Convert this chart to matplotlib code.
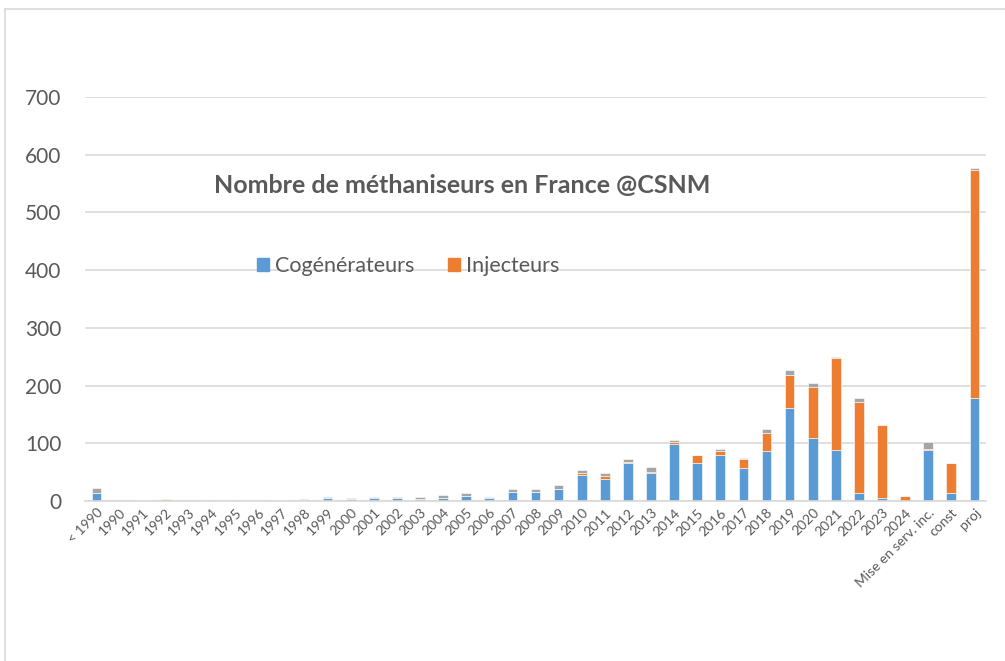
import matplotlib
matplotlib.use("Agg")
import matplotlib.pyplot as plt
from matplotlib.lines import Line2D
from matplotlib.patches import Patch
import numpy as np

plt.rcParams['font.family'] = ['Lato', 'DejaVu Sans']

categories = ["< 1990"] + [str(y) for y in range(1990, 2025)] + ["Mise en serv. inc.", "const", "proj"]

# cogénérateurs (blue)
cogen = [14, 0.5, 1, 0.5, 0, 0.5, 0.5, 0.5, 1.5, 1, 5, 4, 5, 5, 4,
         5, 9, 6, 16, 16, 21.5, 45, 38, 65, 49, 98, 65, 79, 57, 86,
         162, 109, 88, 13, 6, 0.5, 88, 13, 178]
# injecteurs (orange)
inject = [0, 0, 0, 2.5, 0, 0, 0, 0, 0, 1, 0, 0, 0, 0, 0,
          1, 0, 0, 0, 0, 0, 3, 4.5, 2, 1.5, 5, 14, 8, 16, 31,
          57, 88, 160, 159, 125, 7.5, 2, 52, 395]
# autres (grey)
autres = [8, 0, 0, 0, 0, 2, 2, 2, 0, 1.5, 1.5, 1.5, 1.5, 1.5, 2.5,
          5, 5, 1, 5.5, 5, 7, 5.5, 5.5, 6, 8.5, 3, 1, 2.5, 2, 8,
          8, 8, 2, 6, 1, 1, 13, 1, 4]

BLUE, ORANGE, GREY = "#5B9BD5", "#ED7D31", "#A5A5A5"
TXT = "#595959"

fig = plt.figure(figsize=(10.05, 6.61), dpi=100)
ax = fig.add_axes([85 / 1005, 1 - 501 / 661, 901 / 1005, 404 / 661])

x = np.arange(len(categories))
cogen, inject, autres = map(np.array, (cogen, inject, autres))
w = 0.42
ax.bar(x, cogen, w, color=BLUE, edgecolor="white", linewidth=0.4, zorder=2)
ax.bar(x, inject, w, bottom=cogen, color=ORANGE, edgecolor="white", linewidth=0.4, zorder=2)
ax.bar(x, autres, w, bottom=cogen + inject, color=GREY, edgecolor="white", linewidth=0.4, zorder=2)

ax.set_xlim(-0.5, len(categories) - 0.5)
ax.set_ylim(0, 700)
ax.set_yticks(range(0, 701, 100))
ax.yaxis.grid(True, color="#D9D9D9", lw=1.2, zorder=0)
ax.set_axisbelow(True)
for s in ["top", "right", "left"]:
    ax.spines[s].set_visible(False)
ax.spines["bottom"].set_color("#D9D9D9")
ax.spines["bottom"].set_linewidth(1.2)
ax.tick_params(length=0)
ax.tick_params(axis="y", labelsize=15, labelcolor=TXT, pad=17)
ax.set_xticks(x)
ax.set_xticklabels(categories, rotation=45, ha="right", va="top",
                   rotation_mode="anchor", fontsize=10, color=TXT)
ax.tick_params(axis="x", pad=4)

fig.text(462 / 1005, 1 - 185 / 661, "Nombre de méthaniseurs en France @CSNM",
         ha="center", va="center", fontsize=18, fontweight="bold", color=TXT)

handles = [Patch(color=BLUE, label="Cogénérateurs"), Patch(color=ORANGE, label="Injecteurs")]
fig.legend(handles=handles, loc="center left", bbox_to_anchor=(238 / 1005, 1 - 266 / 661),
           ncol=2, frameon=False, fontsize=15.5, handlelength=0.55, handleheight=0.55,
           handletextpad=0.25, columnspacing=1.6, labelcolor=TXT)

# chart frame (cropped)
fig.add_artist(Line2D([5 / 1005, 5 / 1005], [0, 1 - 9 / 661], color="#D9D9D9", lw=1.2))
fig.add_artist(Line2D([5 / 1005, 1], [1 - 9 / 661, 1 - 9 / 661], color="#D9D9D9", lw=1.2))

fig.savefig("out.png", dpi=100)
